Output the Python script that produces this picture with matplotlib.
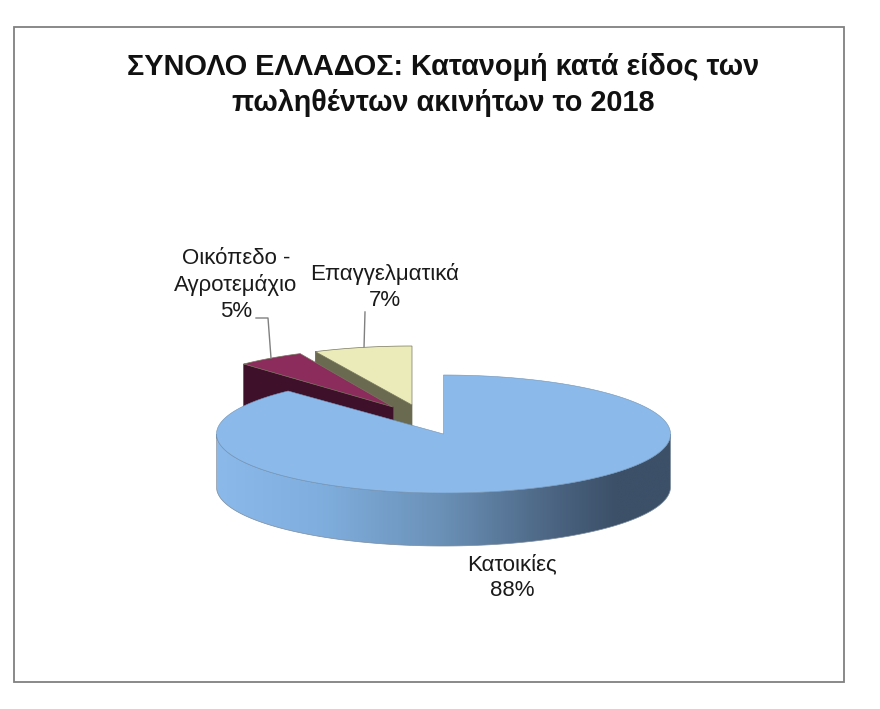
import numpy as np
import matplotlib
matplotlib.use("Agg")
import matplotlib.pyplot as plt
from matplotlib.colors import LinearSegmentedColormap
from matplotlib.patches import Polygon, Rectangle

plt.rcParams['font.family'] = ['Liberation Sans', 'DejaVu Sans']

title = "ΣΥΝΟΛΟ ΕΛΛΑΔΟΣ: Κατανομή κατά είδος των\nπωληθέντων ακινήτων το 2018"
categories = ["Κατοικίες", "Οικόπεδο -\nΑγροτεμάχιο", "Επαγγελματικά"]
values = [88, 5, 7]
top_colors = ["#8ab9ea", "#8b2c5c", "#ebebb9"]
wall_colors = ["#8ab9ea", "#3f102a", "#6a6a50"]

# pie geometry in picture pixels
ry, depth = 59, 53
radii = [227, 218, 227]
centers = [(443.5, 434), (393, 407), (412, 405)]
label_pos = [(512, 578), (236, 285), (385, 287)]


def wedge(cx, cy, rx, start, end, n=120):
    # angles clockwise from 12 o'clock, squashed to an ellipse
    a = np.radians(np.linspace(start, end, n))
    x = cx + rx * np.sin(a)
    y = cy - ry * np.cos(a)
    return np.column_stack([np.r_[cx, x], np.r_[cy, y]])


edges = np.cumsum([0] + values) * 3.6

fig = plt.figure(figsize=(8.8, 7.09), dpi=100)
ax = fig.add_axes([0, 0, 1, 1])
ax.set_xlim(0, 880)
ax.set_ylim(709, 0)
ax.axis("off")

ax.add_patch(Rectangle((14, 27), 830, 655, fc="white", ec="#808080", lw=1.3, zorder=0))

ax.text(443, 85, title, ha="center", va="center", fontsize=20.8, fontweight="bold",
        linespacing=1.4, color="#111111", zorder=10)

# exploded slices, back to front: beige first, then maroon
for i in [2, 1]:
    cx, cy = centers[i]
    pts = wedge(cx, cy, radii[i], edges[i], edges[i + 1])
    wall = [pts[1], pts[0], pts[0] + [0, depth], pts[1] + [0, depth]]
    ax.add_patch(Polygon(wall, fc=wall_colors[i], ec=wall_colors[i], lw=0.5, zorder=2 + (2 - i) * 2))
    ax.add_patch(Polygon(pts, fc=top_colors[i], ec="#77775f", lw=0.5, zorder=3 + (2 - i) * 2))

# the big slice: shaded rim under the top face
cx, cy = centers[0]
rx = radii[0]
a = np.radians(np.linspace(90, 270, 200))
rim_x = cx + rx * np.sin(a)
rim_y = cy - ry * np.cos(a)
rim = np.column_stack([np.r_[rim_x, rim_x[::-1]], np.r_[rim_y, rim_y[::-1] + depth]])
shade = LinearSegmentedColormap.from_list("rim", [(0, "#8ab9ea"), (0.22, "#80afdf"), (0.5, "#6a90b6"),
                                                  (0.75, "#4a6380"), (0.88, "#3c5068"), (1, "#3c5068")])
clip = Polygon(rim, fc="none", ec="#7b8b9c", lw=0.5, zorder=9)
ax.add_patch(clip)
im = ax.imshow(np.linspace(0, 1, 256).reshape(1, -1), cmap=shade, aspect="auto",
               extent=(cx - rx, cx + rx, cy + ry + depth, cy - ry), zorder=8)
im.set_clip_path(clip)
ax.set_xlim(0, 880)
ax.set_ylim(709, 0)

ax.add_patch(Polygon(wedge(cx, cy, rx, edges[0], edges[1], 300), fc=top_colors[0], ec="#6f93b8", lw=0.4, zorder=9))

# leader lines
ax.plot([256, 268, 271], [318, 318, 358], color="#808080", lw=1, zorder=7)
ax.plot([365, 364], [312, 348], color="#808080", lw=1, zorder=2)

for name, val, (lx, ly) in zip(categories, values, label_pos):
    ax.text(lx, ly, f"{name}\n{val}%", ha="center", va="center", fontsize=16,
            linespacing=1.3, color="#1a1a1a", zorder=10)

fig.savefig("out.png", dpi=100)
